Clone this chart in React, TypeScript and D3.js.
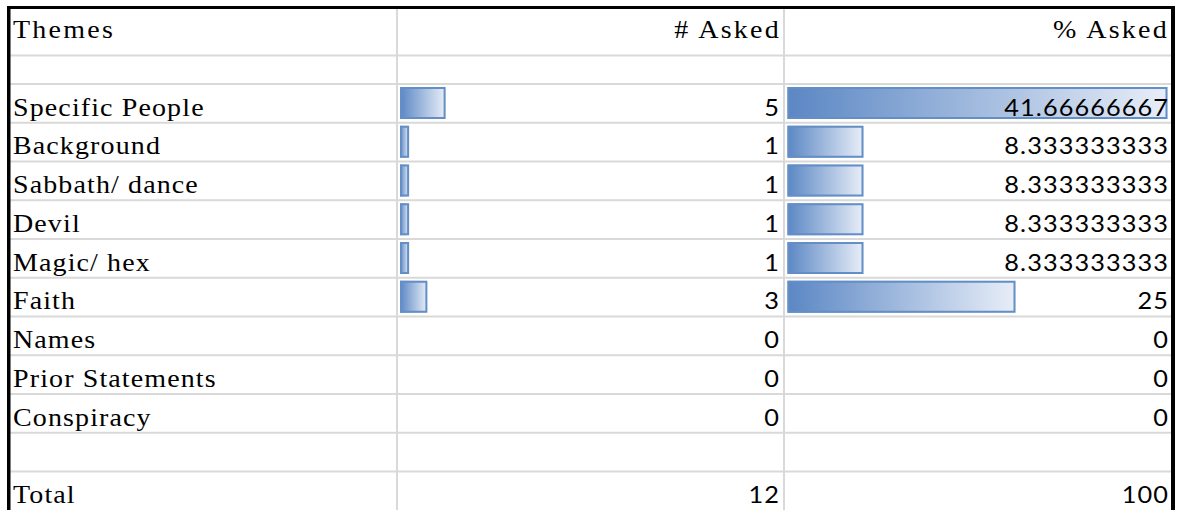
import React from "react";
import * as d3 from "d3";

const headers = ["Themes", "# Asked", "% Asked"];
const themes = [
  "Specific People",
  "Background",
  "Sabbath/ dance",
  "Devil",
  "Magic/ hex",
  "Faith",
  "Names",
  "Prior Statements",
  "Conspiracy",
];
const askedCounts = [5, 1, 1, 1, 1, 3, 0, 0, 0];
const askedPercent = [41.66666667, 8.333333333, 8.333333333, 8.333333333, 8.333333333, 25, 0, 0, 0];
const totalLabel = "Total";
const totalCount = 12;
const totalPercent = 100;

const W = 1179;
const H = 510;

export default function App() {
  const colLeft = [10, 398, 785];
  const colRight = [396, 783, 1171];
  const rowY = d3.scaleLinear().domain([0, 1]).range([84, 84 + 38.75]);
  const barScale = d3.scaleLinear().domain([0, d3.max(askedPercent) as number]).range([0, 380]);
  const fmt = d3.format(".10~g");
  const serif = "'Liberation Serif', 'Times New Roman', serif";
  const sans = "Lato, Carlito, Calibri, sans-serif";
  const sx = 1.12;
  const nx = 1.1;

  const nRows = themes.length + 2; // data + empty + total
  const hLines = [55.5, ...d3.range(nRows).map((i) => rowY(i))];

  const serifText = (x: number, y: number, t: string, anchor: string, key: string, ls = 1) => (
    <text
      key={key}
      transform={`translate(${x},${y}) scale(${sx},1)`}
      textAnchor={anchor as any}
      fontFamily={serif}
      fontSize={25}
      letterSpacing={ls}
      fill="#000"
    >
      {t}
    </text>
  );
  const numText = (x: number, y: number, t: string, key: string) => (
    <text
      key={key}
      transform={`translate(${x + 1},${y}) scale(${nx},1)`}
      textAnchor="end"
      fontFamily={sans}
      fontSize={23}
      letterSpacing={1}
      fill="#000"
    >
      {t}
    </text>
  );

  const bar = (x: number, top: number, v: number, key: string) => {
    const w = barScale(v);
    if (w <= 0) return null;
    return (
      <g key={key}>
        <rect x={x} y={top + 3} width={w} height={32} fill="url(#barGrad)" />
        <rect
          x={x + 1}
          y={top + 4}
          width={Math.max(w - 2, 0)}
          height={30}
          fill="none"
          stroke="#638ec6"
          strokeWidth={2}
        />
      </g>
    );
  };

  return (
    <svg
      width={W}
      height={H}
      style={{ position: "absolute", left: 0, top: 0, background: "#fff" }}
    >
      <defs>
        <linearGradient id="barGrad" x1="0" x2="1" y1="0" y2="0">
          <stop offset="0" stopColor="#5b87c4" />
          <stop offset="1" stopColor="#e8eef8" />
        </linearGradient>
      </defs>
      <rect x={0} y={0} width={W} height={H} fill="#fff" />
      {hLines.map((y, i) => (
        <line key={"h" + i} x1={10} x2={1171} y1={y} y2={y} stroke="#d9d9d9" strokeWidth={2} />
      ))}
      {[397, 784].map((x, i) => (
        <line key={"v" + i} x1={x} x2={x} y1={9} y2={H} stroke="#d9d9d9" strokeWidth={2} />
      ))}
      {serifText(13, 38, headers[0], "start", "h0", 2)}
      {serifText(colRight[1] - 2, 38, headers[1], "end", "h1", 2)}
      {serifText(colRight[2] - 2, 38, headers[2], "end", "h2", 2)}
      {themes.map((t, i) => {
        const top = rowY(i);
        const base = top + 31.5;
        return (
          <g key={"r" + i}>
            {bar(colLeft[1] + 2, top, askedCounts[i], "b1")}
            {bar(colLeft[2] + 2.5, top, askedPercent[i], "b2")}
            {serifText(13, base, t, "start", "t")}
            {numText(colRight[1] - 4, base, fmt(askedCounts[i]), "n1")}
            {numText(colRight[2] - 3, base, fmt(askedPercent[i]), "n2")}
          </g>
        );
      })}
      {(() => {
        const top = rowY(themes.length + 1);
        const base = top + 31;
        return (
          <g>
            {serifText(13, base, totalLabel, "start", "tt")}
            {numText(colRight[1] - 4, base, fmt(totalCount), "tc")}
            {numText(colRight[2] - 3, base, fmt(totalPercent), "tp")}
          </g>
        );
      })()}
      <rect x={7} y={6} width={3.5} height={H} fill="#000" />
      <rect x={7} y={6} width={1168} height={3} fill="#000" />
      <rect x={1171} y={6} width={4} height={H} fill="#000" />
    </svg>
  );
}
